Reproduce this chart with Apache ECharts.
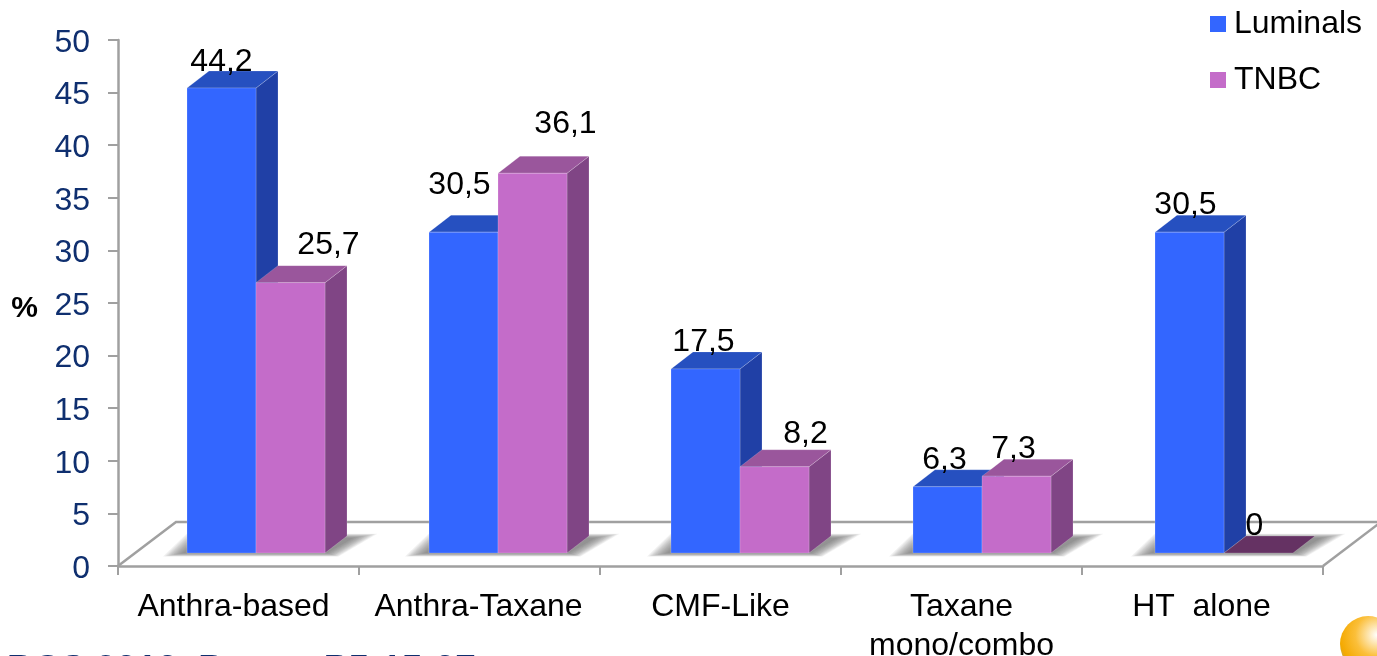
<!DOCTYPE html>
<html>
<head>
<meta charset="utf-8">
<style>html,body{margin:0;padding:0;background:#fff;overflow:hidden}#chart{width:1377px;height:656px}</style>
<script src="https://cdn.jsdelivr.net/npm/echarts@6/dist/echarts.min.js"></script>
</head>
<body>
<div id="chart"></div>
<script>
// Response rates by chemotherapy regimen and breast cancer subtype.
const categories = ['Anthra-based', 'Anthra-Taxane', 'CMF-Like', 'Taxane\nmono/combo', 'HT  alone'];
const luminals = [44.2, 30.5, 17.5, 6.3, 30.5];
const tnbc = [25.7, 36.1, 8.2, 7.3, 0];
const yTicks = [0, 50, 5];

// Label nudges relative to the front-top centre of each bar: [dx, dy].
const luminalNudge = [[0, -26], [-4, -47], [-2, -27], [-3, -27], [-4, -27]];
const tnbcNudge = [[38, -37], [33, -49], [31, -33], [-3, -27], [-4, -27]];
const categoryNudge = [-5, -1, 0, 0, -1];

const FONT = '"Liberation Sans", Arial, sans-serif';
const FONT_SIZE = 32;
const NAVY = '#0f2f6f';
const AXIS_GREY = '#a0a0a0';
const BAR_W = 69, DEPTH_X = 22, DEPTH_Y = 17, LIFT = 13;
const BLUE = { front: '#3366ff', side: '#2040a6', top: '#2650c0' };
const PURPLE = { front: '#c46cc9', side: '#804585', top: '#9a569c', floor: '#653263' };

// Front-face geometry of one bar, projected through the axis scales.
function frontBox(api, slot) {
  const i = api.value(0);
  const p = api.coord([i, api.value(1)]);
  const base = api.coord([i, 0]);
  const x0 = p[0] - 49.5 + (i - 2) + slot * BAR_W;
  return { x0, x1: x0 + BAR_W, top: p[1] - LIFT, bottom: base[1] - LIFT };
}

function poly(points, fill) {
  return {
    type: 'polygon',
    shape: { points },
    style: { fill, stroke: 'rgba(255,255,255,0.18)', lineWidth: 1 }
  };
}

function barRenderer(slot, c) {
  return function (params, api) {
    const b = frontBox(api, slot);
    const dx = DEPTH_X, dy = DEPTH_Y;
    const flat = b.bottom - b.top < 0.5;
    const kids = [];
    if (!flat) {
      kids.push(poly([[b.x1, b.top], [b.x1 + dx, b.top - dy], [b.x1 + dx, b.bottom - dy], [b.x1, b.bottom]], c.side));
      kids.push(poly([[b.x0, b.top], [b.x0 + dx, b.top - dy], [b.x1 + dx, b.top - dy], [b.x1, b.top]], c.top));
      kids.push(poly([[b.x0, b.top], [b.x1, b.top], [b.x1, b.bottom], [b.x0, b.bottom]], c.front));
    } else {
      kids.push(poly([[b.x0, b.top], [b.x0 + dx, b.top - dy], [b.x1 + dx, b.top - dy], [b.x1, b.top]], c.floor));
    }
    return { type: 'group', children: kids };
  };
}

function labelRenderer(slot, nudges) {
  return function (params, api) {
    const b = frontBox(api, slot);
    const n = nudges[api.value(0)];
    return {
      type: 'text',
      style: {
        text: String(api.value(1)).replace('.', ','),
        x: (b.x0 + b.x1) / 2 + n[0], y: b.top + n[1],
        font: FONT_SIZE + 'px ' + FONT,
        fill: '#000', align: 'center', verticalAlign: 'middle'
      }
    };
  };
}

// The soft shadow each bar pair throws on the floor, built from widening translucent layers.
function shadowRenderer(params, api) {
  const b = frontBox(api, 0);
  const x1 = b.x0 + 2 * BAR_W;
  const layers = [];
  for (let k = 11; k >= 0; k--) {
    const g = k * 1.3;
    layers.push({
      type: 'polygon',
      shape: { points: [
        [b.x0 - 4 - g * 1.4, b.bottom + g * 0.25],
        [b.x0 + 14 - g, b.bottom - 15 - g * 0.3],
        [x1 + 28 + g * 1.7, b.bottom - 15 - g * 0.3],
        [x1 + 2 + g * 0.8, b.bottom + g * 0.25]
      ] },
      style: { fill: 'rgba(100,100,100,0.09)' }
    });
  }
  return { type: 'group', children: layers };
}

// Back edge and right edge of the floor, drawn from the plot rectangle.
function floorRenderer(params) {
  const r = params.coordSys;
  const bottom = r.y + r.height, right = r.x + r.width;
  const line = { stroke: AXIS_GREY, lineWidth: 2.5, fill: 'none' };
  return {
    type: 'group',
    children: [
      { type: 'polyline', shape: { points: [[r.x, bottom], [r.x + 58, bottom - 44], [right + 54, bottom - 44]] }, style: line },
      { type: 'line', shape: { x1: right, y1: bottom, x2: right + 58, y2: bottom - 44 }, style: line }
    ]
  };
}

const pairs = luminals.map((v, i) => [i, 0]);
const chart = echarts.init(document.getElementById('chart'), null, { renderer: 'canvas' });

const richStyles = {};
categoryNudge.forEach((d, i) => {
  richStyles['c' + i] = {
    fontFamily: FONT, fontSize: FONT_SIZE, color: '#000', lineHeight: 39,
    padding: d < 0 ? [0, -2 * d, 0, 0] : [0, 0, 0, 2 * d]
  };
});

chart.setOption({
  animation: false,
  backgroundColor: '#fff',
  grid: { left: 118, right: 54, top: 40, bottom: 90, containLabel: false, outerBoundsMode: 'none' },
  legend: {
    orient: 'vertical', left: 1210, top: 8, padding: 0, icon: 'rect',
    itemWidth: 16, itemHeight: 16, itemGap: 24,
    selectedMode: false,
    data: [
      { name: 'Luminals', itemStyle: { color: BLUE.front } },
      { name: 'TNBC', itemStyle: { color: PURPLE.front } }
    ],
    textStyle: { fontFamily: FONT, fontSize: FONT_SIZE, color: '#000', padding: [0, 0, 0, 3] }
  },
  xAxis: {
    type: 'category', data: categories,
    axisLine: { lineStyle: { color: AXIS_GREY, width: 2.5 } },
    axisTick: { show: true, alignWithLabel: false, length: 9, lineStyle: { color: AXIS_GREY, width: 2 } },
    axisLabel: {
      interval: 0, margin: 22,
      formatter: (v, i) => v.split('\n').map(t => '{c' + i + '|' + t + '}').join('\n'),
      rich: richStyles
    }
  },
  yAxis: {
    type: 'value', min: yTicks[0], max: yTicks[1], interval: yTicks[2],
    name: '%', nameLocation: 'middle', nameRotate: 0, nameGap: 80,
    nameTextStyle: { fontFamily: FONT, fontSize: 30, fontWeight: 'bold', color: '#000', verticalAlign: 'top', lineHeight: 12 },
    splitLine: { show: false },
    axisLine: { show: true, lineStyle: { color: AXIS_GREY, width: 2.5 } },
    axisTick: { show: true, length: 10, lineStyle: { color: AXIS_GREY, width: 2 } },
    axisLabel: { fontFamily: FONT, fontSize: FONT_SIZE, color: NAVY, margin: 28, verticalAlign: 'top', lineHeight: 6 }
  },
  series: [
    { type: 'custom', name: 'floor', z: 1, silent: true, clip: false, renderItem: floorRenderer, data: [[0, 0]] },
    { type: 'custom', name: 'shadow', z: 2, silent: true, clip: false, renderItem: shadowRenderer, data: pairs, encode: { x: 0, y: 1 } },
    { type: 'custom', name: 'Luminals', z: 3, itemStyle: { color: BLUE.front }, clip: false, renderItem: barRenderer(0, BLUE), data: luminals.map((v, i) => [i, v]), encode: { x: 0, y: 1 } },
    { type: 'custom', name: 'TNBC', z: 4, itemStyle: { color: PURPLE.front }, clip: false, renderItem: barRenderer(1, PURPLE), data: tnbc.map((v, i) => [i, v]), encode: { x: 0, y: 1 } },
    { type: 'custom', name: 'Luminals values', z: 5, silent: true, clip: false, renderItem: labelRenderer(0, luminalNudge), data: luminals.map((v, i) => [i, v]), encode: { x: 0, y: 1 } },
    { type: 'custom', name: 'TNBC values', z: 5, silent: true, clip: false, renderItem: labelRenderer(1, tnbcNudge), data: tnbc.map((v, i) => [i, v]), encode: { x: 0, y: 1 } }
  ],
  graphic: [
    {
      type: 'text', left: 7, top: 652,
      style: { text: 'BCS 2010, Poster P5-15-07', font: 'bold 37px ' + FONT, fill: NAVY }
    },
    {
      type: 'circle', shape: { cx: 1368, cy: 644, r: 28 },
      style: {
        fill: {
          type: 'radial', x: 0.66, y: 0.34, r: 0.92,
          colorStops: [
            { offset: 0, color: '#ffffff' },
            { offset: 0.42, color: '#fbbf3a' },
            { offset: 0.72, color: '#f4a900' },
            { offset: 0.88, color: '#9aa486' },
            { offset: 1, color: '#1f78ad' }
          ]
        }
      }
    }
  ]
});
</script>
</body>
</html>
